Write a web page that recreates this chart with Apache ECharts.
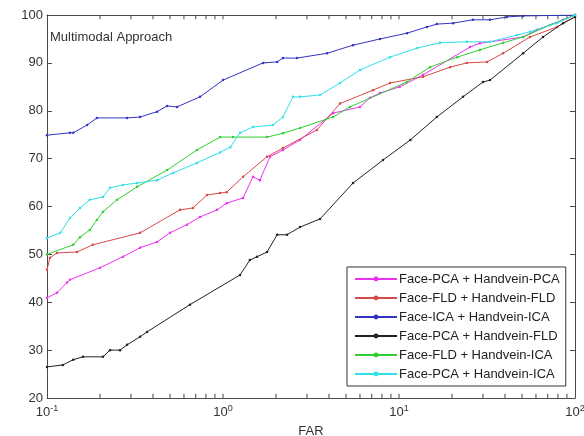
<!DOCTYPE html>
<html>
<head>
<meta charset="utf-8">
<script src="https://cdn.jsdelivr.net/npm/echarts@6/dist/echarts.min.js"></script>
<style>
  html, body { margin: 0; padding: 0; background: #fff; }
  #chart { width: 584px; height: 436px; }
</style>
</head>
<body>
<div id="chart"></div>
<script>
// ROC-style curves: GAR (%) against FAR (log scale) for fused face + hand-vein matchers
const seriesNames = [
  'Face-PCA + Handvein-PCA',
  'Face-FLD + Handvein-FLD',
  'Face-ICA + Handvein-ICA',
  'Face-PCA + Handvein-FLD',
  'Face-FLD + Handvein-ICA',
  'Face-PCA + Handvein-ICA'
];
const seriesColors = ['#f030f0', '#d84848', '#3434c0', '#222222', '#30d030', '#30e0e8'];

const facePcaHandveinPca = [
  [0.1,40.9],[0.114,42.0],[0.13,44.1],[0.135,44.7],[0.2,47.2],[0.27,49.5],[0.338,51.4],
  [0.422,52.6],[0.5,54.5],[0.624,56.2],[0.74,57.8],[0.925,59.3],[1.05,60.7],[1.3,61.8],
  [1.48,66.2],[1.62,65.5],[1.85,70.4],[2.19,71.8],[2.74,73.9],[4.22,79.5],[6.0,80.8],
  [6.84,82.7],[7.8,83.7],[10.1,85.0],[13.7,87.5],[25.3,93.3],[28.8,94.1],[50.7,95.4],
  [60.8,96.9],[85.5,99.0],[100,100]
];
const faceFldHandveinFld = [
  [0.1,46.8],[0.104,49.3],[0.114,50.3],[0.148,50.5],[0.182,52.0],[0.338,54.5],[0.57,59.3],
  [0.676,59.7],[0.811,62.4],[0.962,62.8],[1.05,63.0],[1.3,66.2],[1.78,70.4],[2.19,72.2],
  [3.42,76.0],[4.62,81.5],[7.11,84.3],[8.89,85.8],[13.7,87.1],[19.5,89.1],[24.3,90.0],
  [31.6,90.2],[39.0,92.0],[55.5,95.4],[79,97.5],[100,99.6]
];
const faceIcaHandveinIca = [
  [0.1,74.9],[0.135,75.4],[0.141,75.4],[0.169,77.0],[0.192,78.5],[0.285,78.5],[0.338,78.7],
  [0.422,79.8],[0.481,81.0],[0.548,80.8],[0.74,82.9],[1.0,86.4],[1.69,90.0],[2.03,90.2],
  [2.19,91.0],[2.63,91.0],[3.9,92.0],[5.48,93.7],[7.8,95.0],[11.1,96.2],[14.4,97.5],
  [16.4,98.1],[20.3,98.3],[26.3,99.0],[32.9,99.0],[41.1,99.6],[50.7,99.8],[100,100]
];
const facePcaHandveinFld = [
  [0.1,26.5],[0.123,26.9],[0.141,28.0],[0.16,28.6],[0.208,28.6],[0.228,30.0],[0.26,30.0],
  [0.285,31.1],[0.338,32.8],[0.37,33.8],[0.649,39.5],[1.25,45.7],[1.42,48.8],[1.56,49.5],
  [1.78,50.5],[2.03,54.1],[2.31,54.1],[2.74,55.7],[3.56,57.4],[5.48,64.9],[8.11,69.7],
  [11.6,73.9],[16.4,78.7],[23.1,82.9],[30.0,86.0],[32.9,86.4],[50.7,92.0],[65.8,95.4],
  [85.5,98.3],[100,99.6]
];
const faceFldHandveinIca = [
  [0.1,50.0],[0.141,52.0],[0.154,53.6],[0.175,55.1],[0.192,57.2],[0.208,58.9],[0.25,61.4],
  [0.325,64.1],[0.481,67.6],[0.711,71.8],[0.962,74.5],[1.14,74.5],[1.78,74.5],[2.19,75.3],
  [2.74,76.4],[4.22,78.7],[5.27,80.8],[11.1,86.0],[15.0,89.1],[21.4,91.2],[28.8,92.7],
  [39.0,94.2],[50.7,95.4],[72.1,97.9],[100,100]
];
const facePcaHandveinIca = [
  [0.1,53.4],[0.119,54.5],[0.135,57.6],[0.154,59.7],[0.175,61.4],[0.208,62.0],[0.228,63.9],
  [0.27,64.5],[0.325,64.9],[0.422,65.5],[0.52,67.0],[0.711,69.1],[0.962,71.3],[1.1,72.4],
  [1.25,75.4],[1.48,76.6],[1.92,77.0],[2.19,78.7],[2.5,82.9],[2.74,82.9],[3.56,83.3],
  [4.62,85.8],[6.0,88.5],[8.89,91.2],[12.7,93.1],[17.1,94.2],[24.3,94.4],[32.9,94.4],
  [46.8,95.8],[55.5,96.5],[79,98.3],[100,100]
];
const seriesData = [
  facePcaHandveinPca, faceFldHandveinFld, faceIcaHandveinIca,
  facePcaHandveinFld, faceFldHandveinIca, facePcaHandveinIca
];

// Axis ranges; inner tick positions 2..9 within each decade plus the decade marks
const farMin = 0.1, farMax = 100;
const garMin = 20, garMax = 100, garStep = 10;
const farTicks = [];
[0.1, 1, 10].forEach(d => { for (let k = 2; k <= 9; k++) farTicks.push(+(d * k).toPrecision(3)); });
farTicks.push(1, 10);

const FONT = 'Liberation Sans, Arial, sans-serif';
const axisColor = '#4a4a4a';
const labelColor = '#333';

const chart = echarts.init(document.getElementById('chart'), null, { renderer: 'canvas' });

const lineSeries = seriesNames.map((name, i) => ({
  name,
  type: 'line',
  data: seriesData[i],
  xAxisIndex: 0,
  yAxisIndex: 0,
  showSymbol: true,
  symbol: 'circle',
  symbolSize: 2.5,
  lineStyle: { width: 1, color: seriesColors[i] },
  itemStyle: { color: seriesColors[i] },
  emphasis: { disabled: true },
  animation: false,
  z: 3 + i
}));

// Tick marks along the log axis, pointing into the plot from bottom and top frame lines
const tickLen = 0.9; // in GAR units, about 4 px
const tickSegments = [];
farTicks.forEach(v => {
  tickSegments.push([v, garMin], [v, garMin + tickLen], [v, null]);
  tickSegments.push([v, garMax], [v, garMax - tickLen], [v, null]);
});
const tickSeries = {
  name: 'farTicks',
  type: 'line',
  data: tickSegments,
  connectNulls: false,
  showSymbol: false,
  symbol: 'none',
  silent: true,
  animation: false,
  lineStyle: { width: 1, color: axisColor },
  emphasis: { disabled: true },
  z: 2
};

const supRich = {
  b: { fontSize: 13, fontFamily: FONT, color: labelColor },
  s: { fontSize: 9, fontFamily: FONT, color: labelColor, verticalAlign: 'top', padding: [0, 0, 8, 0] }
};

const option = {
  animation: false,
  backgroundColor: '#fff',
  title: {
    text: 'Multimodal Approach',
    left: 45,
    top: 26,
    textStyle: { fontSize: 13, fontWeight: 'normal', color: labelColor, fontFamily: FONT }
  },
  grid: { left: 47, right: 9, top: 15, bottom: 38, containLabel: false, outerBoundsMode: 'none' },
  legend: {
    data: seriesNames,
    orient: 'vertical',
    left: 347,
    top: 267,
    backgroundColor: '#fff',
    borderColor: '#333',
    borderWidth: 1,
    borderRadius: 0,
    padding: [5, 6, 5, 7],
    itemWidth: 42,
    itemHeight: 6,
    itemGap: 5,
    textStyle: { fontSize: 13, lineHeight: 14, fontFamily: FONT, color: '#222', padding: [0, 0, 0, -3] },
    selectedMode: false
  },
  xAxis: [
    {
      type: 'log',
      logBase: 10,
      min: farMin,
      max: farMax,
      name: 'FAR',
      nameLocation: 'middle',
      nameGap: 27,
      nameTextStyle: { fontSize: 13, fontFamily: FONT, color: labelColor },
      axisLine: { show: true, lineStyle: { color: axisColor, width: 1 } },
      axisTick: { show: false },
      splitLine: { show: false },
      axisLabel: {
        margin: 6,
        formatter: v => '{b|10}{s|' + Math.round(Math.log10(v)) + '}',
        rich: supRich
      }
    },
    {
      type: 'log',
      logBase: 10,
      min: farMin,
      max: farMax,
      position: 'top',
      axisLine: { show: true, lineStyle: { color: axisColor, width: 1 } },
      axisTick: { show: false },
      axisLabel: { show: false },
      splitLine: { show: false }
    }
  ],
  yAxis: [
    {
      type: 'value',
      min: garMin,
      max: garMax,
      interval: garStep,
      axisLine: { show: true, lineStyle: { color: axisColor, width: 1 } },
      axisTick: { show: true, inside: true, length: 5, lineStyle: { color: axisColor } },
      splitLine: { show: false },
      axisLabel: { fontSize: 13, fontFamily: FONT, color: labelColor, margin: 4 }
    },
    {
      type: 'value',
      min: garMin,
      max: garMax,
      interval: garStep,
      position: 'right',
      axisLine: { show: true, lineStyle: { color: axisColor, width: 1 } },
      axisTick: { show: true, inside: true, length: 5, lineStyle: { color: axisColor } },
      splitLine: { show: false },
      axisLabel: { show: false }
    }
  ],
  series: [tickSeries, ...lineSeries]
};

chart.setOption(option);
</script>
</body>
</html>
